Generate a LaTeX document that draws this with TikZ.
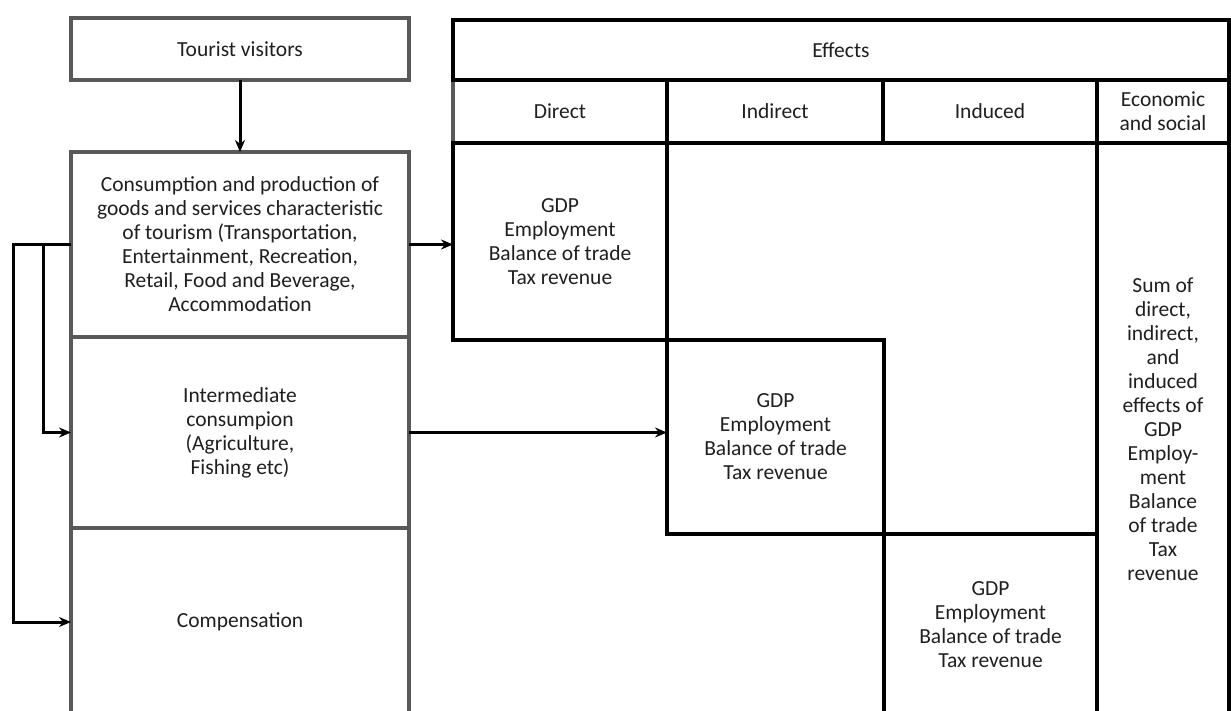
\documentclass[tikz,border=0pt]{standalone}
\usepackage{fontspec}
\setmainfont{Carlito}
\usetikzlibrary{positioning,arrows.meta}

\begin{document}
\begin{tikzpicture}[x=1pt, y=-1pt,
    cell/.style={draw, rectangle, line width=3.5pt, outer sep=0pt, inner sep=0pt, anchor=north west, align=center, font=\fontsize{21.5}{24}\selectfont, text=black!88},
    graycell/.style={cell, draw=black!65},
    blackcell/.style={cell, draw=black},
    link/.style={-{Stealth[length=12pt,width=10pt]}, line width=3pt}]
    \useasboundingbox (0,0) rectangle (1231,711);
    \clip (0,0) rectangle (1231,711);

    % left column
    \node (tourist) [graycell, minimum width=338pt, minimum height=62pt] at (71,18) {Tourist visitors};
    \node (consum) [graycell, minimum width=338pt, minimum height=185pt] at (71,152) {Consumption and production of\\goods and services characteristic\\of tourism (Transportation,\\Entertainment, Recreation,\\Retail, Food and Beverage,\\Accommodation};
    \node (interm) [graycell, minimum width=338pt, minimum height=191pt] at (71,337) {Intermediate\\consumpion\\(Agriculture,\\Fishing etc)};
    \node (compens) [graycell, minimum width=338pt, minimum height=188pt] at (71,528) {Compensation};

    % effects table
    \node (hdirect) [graycell, minimum width=214pt, minimum height=63pt] at (453,80) {Direct};
    \node (effects) [blackcell, minimum width=776pt, minimum height=60pt] at (453,20) {Effects};
    \node (hindirect) [blackcell, minimum width=216pt, minimum height=63pt] at (667,80) {Indirect};
    \node (hinduced) [blackcell, minimum width=214pt, minimum height=63pt] at (883,80) {Induced};
    \node (heconomic) [blackcell, minimum width=132pt, minimum height=63pt] at (1097,80) {Economic\\and social};
    \node (direct) [blackcell, minimum width=214pt, minimum height=197pt] at (453,143) {GDP\\Employment\\Balance of trade\\Tax revenue};
    \node (indirect) [blackcell, minimum width=217pt, minimum height=194pt] at (667,340) {GDP\\Employment\\Balance of trade\\Tax revenue};
    \node (induced) [blackcell, minimum width=213pt, minimum height=182pt] at (884,534) {GDP\\Employment\\Balance of trade\\Tax revenue};
    \node (economic) [blackcell, minimum width=132pt, minimum height=573pt] at (1097,143) {Sum of\\direct,\\indirect,\\and\\induced\\effects of\\GDP\\Employ-\\ment\\Balance\\of trade\\Tax\\revenue};

    % arrows
    \draw[link] (tourist) -- (consum);
    \draw[link] (consum.east) -- (consum.east -| direct.west);
    \draw[link] (interm.east) -- (interm.east -| indirect.west);
    \draw[link] (consum.west) -- ++(-58,0) |- (compens.west);
    \draw[link] ([xshift=-28pt]consum.west) |- (interm.west);
\end{tikzpicture}
\end{document}
